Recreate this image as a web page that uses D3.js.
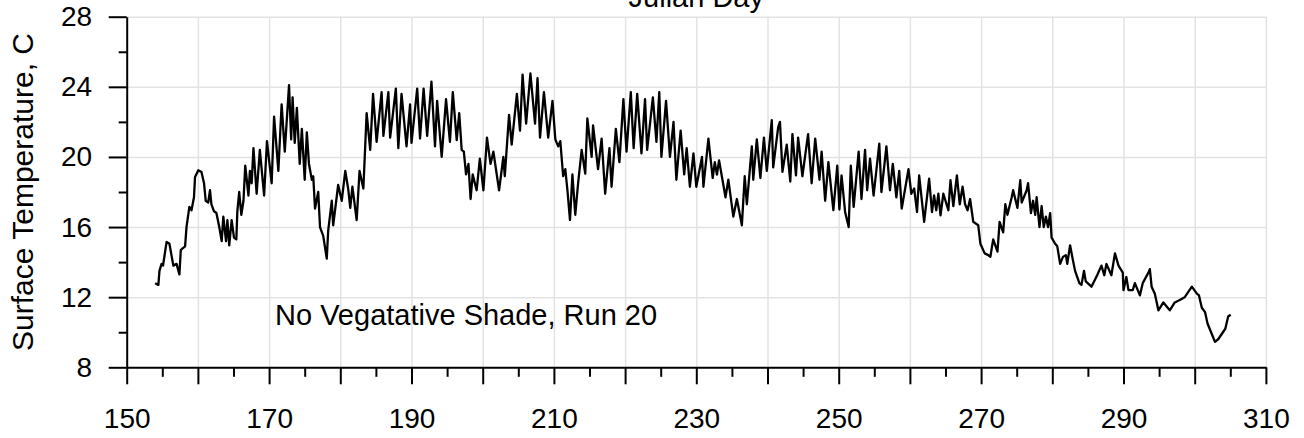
<!DOCTYPE html>
<html><head><meta charset="utf-8">
<script src="https://cdn.jsdelivr.net/npm/d3@7"></script>
<style>
body{margin:0;background:#fff}
svg{display:block}
text{font-family:"Liberation Sans",Arial,sans-serif;fill:#000}
</style>
</head><body>
<svg id="chart" width="1304" height="438"></svg>
<script>
// ---- data ----
const julianDay = [
154.0,154.45,154.6,154.9,155.1,155.6,156.0,156.55,157.0,157.4,
157.6,158.2,158.4,158.8,159.1,159.45,159.6,160.06,160.5,160.86,
161.1,161.45,161.7,161.9,162.26,162.6,163.0,163.34,163.57,163.95,
164.14,164.4,164.74,165.07,165.4,165.54,165.8,166.1,166.4,166.65,
167.1,167.3,167.55,167.8,168.25,168.7,169.3,169.7,170.36,170.7,
171.3,171.76,172.2,172.8,173.1,173.3,173.6,173.9,174.3,174.6,
175.0,175.3,175.6,176.0,176.2,176.45,176.9,177.15,177.6,178.1,
178.3,178.8,179.0,179.7,180.2,180.7,181.1,181.4,181.7,182.3,
182.7,183.24,183.7,184.2,184.6,185.1,185.8,186.05,186.75,187.0,
187.8,188.15,188.6,189.3,189.8,190.0,190.8,191.2,191.7,192.2,
192.8,193.3,193.6,194.24,194.85,195.4,195.8,196.35,196.7,197.05,
197.35,197.66,198.0,198.3,198.6,198.9,199.15,199.6,200.1,200.6,
201.1,201.5,202.3,202.9,203.1,203.7,204.07,204.8,205.24,205.6,
206.1,206.7,207.35,207.7,208.05,208.6,209.2,209.8,210.2,210.6,
210.9,211.3,211.6,211.9,212.26,212.6,213.0,213.4,213.9,214.4,
214.7,215.3,215.5,216.2,216.7,217.2,217.8,218.1,218.7,219.2,
219.76,220.2,220.8,221.2,221.7,222.3,222.8,223.1,223.9,224.4,
224.8,225.1,225.75,226.3,226.8,227.2,227.8,228.3,228.65,229.1,
229.6,230.0,230.8,231.0,231.7,232.3,232.6,232.9,233.2,234.1,
234.5,235.2,235.7,236.4,236.8,237.1,237.8,238.0,238.5,239.0,
239.5,239.9,240.6,240.8,241.5,241.75,242.1,242.7,243.2,243.5,
244.0,244.3,244.9,245.7,246.2,246.7,247.3,247.6,248.1,248.55,
249.25,249.8,250.1,250.4,250.9,251.4,251.7,252.1,252.8,253.2,
253.7,254.0,254.4,254.9,255.7,256.0,256.7,257.2,257.6,258.1,
258.5,258.85,259.8,260.2,260.6,261.0,261.3,262.0,262.7,263.1,
263.4,263.7,264.0,264.3,264.7,265.4,265.7,266.1,266.6,267.0,
267.4,267.75,268.1,268.45,268.9,269.6,269.9,270.5,271.0,271.3,
271.7,272.3,272.6,273.1,273.4,273.7,274.3,274.5,275.1,275.5,
275.7,276.4,276.6,277.0,277.3,277.6,277.8,278.2,278.5,278.8,
279.1,279.4,279.7,279.9,280.4,280.7,281.1,281.5,281.9,282.1,
282.5,282.9,283.2,283.8,284.1,284.45,284.7,285.5,286.3,286.9,
287.3,287.6,288.3,288.8,289.3,289.9,290.0,290.4,290.7,291.3,
291.6,292.3,292.7,293.5,293.7,293.95,294.4,294.9,295.6,296.5,
297.2,297.7,298.6,299.6,300.3,300.6,301.0,301.45,301.8,302.5,
302.85,303.3,304.3,304.7,305.05
];
const surfaceTemp = [
12.8,12.7,13.5,13.9,13.8,15.15,15.05,13.8,13.9,13.3,
14.7,14.9,16.0,17.15,16.96,17.7,18.86,19.24,19.14,18.5,
17.5,17.4,18.1,17.3,16.9,16.8,16.0,15.2,16.6,15.2,
16.4,14.96,16.4,15.4,15.3,16.9,18.0,16.7,17.5,19.5,
17.8,19.2,18.5,20.5,17.9,20.4,17.8,20.9,18.5,22.3,
19.2,23.0,20.3,24.1,21.0,23.4,20.8,22.8,19.6,21.6,
18.7,21.4,19.6,18.7,18.9,17.05,18.0,16.0,15.5,14.2,
15.8,17.5,16.1,18.4,17.5,19.2,18.2,17.1,18.3,16.4,
19.2,18.2,22.5,20.4,23.6,20.86,23.7,21.2,23.7,21.1,
23.9,20.5,23.6,20.6,23.0,20.8,23.9,21.05,23.9,21.2,
24.3,20.6,23.2,20.0,23.3,20.86,23.7,20.96,22.5,20.4,
20.3,19.0,19.6,17.6,19.0,18.5,18.1,19.9,18.1,21.1,
19.6,20.3,18.1,20.0,18.9,22.4,20.7,23.6,21.5,24.7,
21.9,24.76,21.9,24.5,21.1,23.7,21.1,23.2,21.0,20.6,
20.9,18.9,19.3,18.1,16.4,19.0,16.7,18.5,20.4,19.05,
22.2,20.0,21.8,19.3,21.05,17.9,20.5,18.3,21.6,19.7,
23.3,20.3,23.7,20.5,23.6,20.2,23.3,20.4,23.4,20.86,
23.7,20.0,23.2,20.0,22.0,18.7,21.5,19.0,20.5,18.3,
20.2,18.3,20.0,18.3,21.05,18.8,19.7,19.0,19.8,17.7,
18.7,16.6,17.6,16.1,18.9,17.3,20.6,18.7,21.0,18.8,
21.1,19.2,22.1,19.4,21.7,22.0,19.15,20.7,18.6,21.3,
18.95,21.1,18.9,21.3,18.5,21.05,18.7,20.3,17.5,19.7,
16.96,19.5,17.0,18.95,16.86,16.0,19.5,17.15,20.3,17.6,
20.4,18.1,19.9,17.8,20.76,18.0,20.6,18.1,19.6,17.7,
19.2,17.05,19.3,17.9,18.2,16.86,18.95,16.3,18.76,16.86,
17.8,16.96,17.9,16.67,17.9,16.96,18.67,17.2,18.95,17.3,
18.3,17.3,16.96,17.6,16.3,16.1,15.05,14.5,14.4,14.3,
15.3,14.6,16.3,15.7,17.3,16.7,17.7,18.1,17.1,18.67,
17.4,18.1,18.5,16.8,17.5,16.7,17.7,16.0,17.2,16.0,
16.6,16.0,16.8,15.4,15.05,14.9,13.9,14.3,14.4,13.9,
14.96,14.1,13.5,12.8,12.7,13.5,12.9,12.6,13.25,13.8,
13.25,13.9,13.25,14.5,13.8,13.4,12.4,13.15,12.4,12.4,
12.8,12.1,12.8,13.4,13.6,12.6,12.2,11.25,11.7,11.25,
11.7,11.8,12.0,12.6,12.2,12.1,11.4,11.15,10.5,9.8,
9.45,9.6,10.2,10.9,11.0
];
const xDomain = [150, 310];
const yDomain = [8, 28];
const xLabelTicks = [150, 170, 190, 210, 230, 250, 270, 290, 310];
const xMajorTicks = [150, 160, 170, 180, 190, 200, 210, 220, 230, 240, 250, 260, 270, 280, 290, 300, 310];
const xMinorTicks = [155, 165, 175, 185, 195, 205, 215, 225, 235, 245, 255, 265, 275, 285, 295, 305];
const yMajorTicks = [8, 12, 16, 20, 24, 28];
const yMinorTicks = [10, 14, 18, 22, 26];
const xTitle = "Julian Day";
const yTitle = "Surface Temperature, C";
const note = "No Vegatative Shade, Run 20";

// ---- layout ----
const plot = {left: 126.7, right: 1265.9, top: 16.7, bottom: 367.3};
const FS = 28;

const svg = d3.select("#chart");
const x = d3.scaleLinear().domain(xDomain).range([plot.left, plot.right]);
const y = d3.scaleLinear().domain(yDomain).range([plot.bottom, plot.top]);

// grid
const gx = svg.append("g").attr("transform", `translate(0,${plot.bottom})`)
  .call(d3.axisBottom(x).tickValues(xMajorTicks.slice(1)).tickSize(-(plot.bottom - plot.top)).tickFormat(""));
gx.select(".domain").remove();
const gy = svg.append("g").attr("transform", `translate(${plot.left},0)`)
  .call(d3.axisLeft(y).tickValues(yMajorTicks.slice(1)).tickSize(-(plot.right - plot.left)).tickFormat(""));
gy.select(".domain").remove();
[gx, gy].forEach(g => g.selectAll("line").attr("stroke", "#e3e3e3").attr("stroke-width", 1.5));

// series
const pts = julianDay.map((d, i) => [d, surfaceTemp[i]]);
svg.append("path").datum(pts)
  .attr("fill", "none").attr("stroke", "#000").attr("stroke-width", 2.3).attr("stroke-linejoin", "round")
  .attr("d", d3.line().x(d => x(d[0])).y(d => y(d[1])));

// x axis
const xMinor = svg.append("g").attr("transform", `translate(0,${plot.bottom})`)
  .call(d3.axisBottom(x).tickValues(xMinorTicks).tickSize(9.5).tickSizeOuter(0).tickFormat(""));
xMinor.select(".domain").remove();
const xAx = svg.append("g").attr("transform", `translate(0,${plot.bottom})`)
  .call(d3.axisBottom(x).tickValues(xMajorTicks).tickSize(17).tickSizeOuter(0).tickPadding(24)
    .tickFormat(d => xLabelTicks.includes(d) ? d : ""));
xAx.selectAll("text").attr("font-size", FS).attr("font-family", "Liberation Sans, Arial, sans-serif");

// y axis
const yMinor = svg.append("g").attr("transform", `translate(${plot.left},0)`)
  .call(d3.axisLeft(y).tickValues(yMinorTicks).tickSize(8).tickSizeOuter(0).tickFormat(""));
yMinor.select(".domain").remove();
const yAx = svg.append("g").attr("transform", `translate(${plot.left},0)`)
  .call(d3.axisLeft(y).tickValues(yMajorTicks).tickSize(18).tickSizeOuter(0).tickPadding(16.5));
yAx.selectAll("text").attr("font-size", FS).attr("font-family", "Liberation Sans, Arial, sans-serif");
[xMinor, xAx, yMinor, yAx].forEach(g => g.selectAll(".tick line, .domain").attr("stroke", "#000").attr("stroke-width", 2));

// titles
svg.append("text").attr("x", (plot.left + plot.right) / 2).attr("y", 7)
  .attr("text-anchor", "middle").attr("font-size", 29).text(xTitle);
svg.append("text").attr("transform", "translate(33,192) rotate(-90)")
  .attr("text-anchor", "middle").attr("font-size", 30).text(yTitle);
svg.append("text").attr("x", 275).attr("y", 325).attr("font-size", 29).text(note);
</script>
</body></html>
